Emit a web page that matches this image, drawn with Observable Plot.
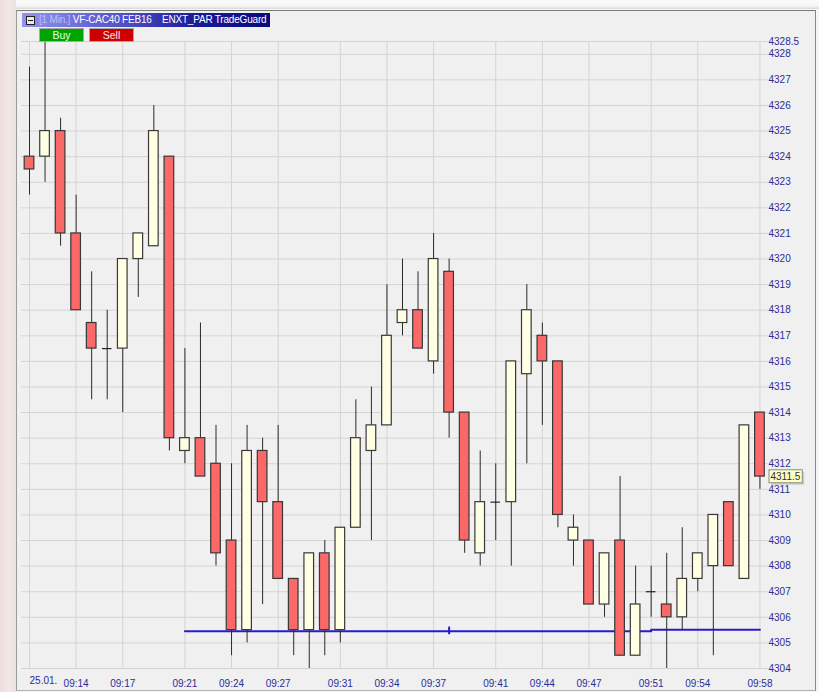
<!DOCTYPE html>
<html>
<head>
<meta charset="utf-8">
<script src="https://cdn.jsdelivr.net/npm/d3@7"></script>
<script src="https://cdn.jsdelivr.net/npm/@observablehq/plot@0.6"></script>
<style>
  html, body { margin: 0; padding: 0; }
  body { width: 819px; height: 692px; overflow: hidden; position: relative; background: #f7f5f5; font-family: "Liberation Sans", Arial, sans-serif; }
  #leftstrip { position: absolute; left: 0; top: 0; width: 16px; height: 692px; background: linear-gradient(90deg, #eedede, #f3e6e6 60%, #e9e2e2); }
  #topstrip { position: absolute; left: 16px; top: 0; width: 803px; height: 9px; background: linear-gradient(180deg, #fbfbfb, #f4f4f4 70%, #d8d8d8); }
  #panel { position: absolute; left: 16px; top: 10px; width: 798px; height: 679px; background: #f0f0f0; border-top: 1px solid #7a7a7a; border-left: 1px solid #9a9a9a; border-right: 1px solid #8a8a8a; border-bottom: 1px solid #b0b0b0; }
  #chart { position: absolute; left: 0; top: 0; }
  #header { position: absolute; left: 22px; top: 13px; width: 248px; height: 14px; background: linear-gradient(90deg, #9494ee, #5a5ad0 35%, #1a1a9a 70%, #0a0a7e); color: #ffffff; font-size: 10px; letter-spacing: -0.2px; line-height: 14px; white-space: pre; overflow: hidden; }
  #header .icon { position: absolute; left: 4px; top: 3px; width: 7px; height: 7px; border: 1px solid #202020; background: #e8e8f4; }
  #header .icon::after { content: ""; position: absolute; left: 1px; top: 3px; width: 5px; height: 1px; background: #202020; }
  #header .txt { position: absolute; left: 17px; top: 0; }
  #header .tf { color: #c0c0f8; }
  .btn { position: absolute; top: 28px; width: 43px; height: 12px; font-size: 10.5px; line-height: 12px; text-align: center; border: 1px solid #a8a8a8; }
  #buy { left: 39px; background: #00a400; color: #e6ffe6; }
  #sell { left: 89px; background: #cc0000; color: #ffe6e6; }
</style>
</head>
<body>
<div id="leftstrip"></div>
<div id="topstrip"></div>
<div id="panel"></div>
<div id="chart"></div>
<div id="header"><span class="icon"></span><span class="txt"><span class="tf">[1 Min.]</span> VF-CAC40 FEB16    ENXT_PAR TradeGuard</span></div>
<div class="btn" id="buy">Buy</div>
<div class="btn" id="sell">Sell</div>
<script>
// ---- Data (1-minute candles, 25.01.) ----
const times = ["09:11","09:12","09:13","09:14","09:15","09:16","09:17","09:18","09:19","09:20",
  "09:21","09:22","09:23","09:24","09:25","09:26","09:27","09:28","09:29","09:30",
  "09:31","09:32","09:33","09:34","09:35","09:36","09:37","09:38","09:39","09:40",
  "09:41","09:42","09:43","09:44","09:45","09:46","09:47","09:48","09:49","09:50",
  "09:51","09:52","09:53","09:54","09:55","09:56","09:57","09:58"];
const opens = [4324,4324,4325,4321,4317.5,4316.5,4316.5,4320,4320.5,4324,
  4312.5,4313,4312,4309,4305.5,4312.5,4310.5,4307.5,4305.5,4308.5,
  4305.5,4309.5,4312.5,4313.5,4317.5,4318,4316,4319.5,4314,4308.5,
  4310.5,4310.5,4315.5,4317,4316,4309,4309,4306.5,4309,4304.5,
  4307,4306.5,4306,4307.5,4308,4310.5,4307.5,4314];
const highs = [4327.5,4328.5,4325.5,4322.5,4319.5,4318,4320,4321,4326,4324,
  4316.5,4317.5,4313.5,4312,4313.5,4313,4313.5,4307.5,4308.5,4309,
  4309.5,4314.5,4315,4319,4320,4319.5,4321,4320,4314,4312.5,
  4312,4316,4319,4317.5,4316,4310,4309,4308.5,4311.5,4308,
  4308,4308.5,4309.5,4308.5,4310,4310.5,4313.5,4314];
const lows = [4322.5,4323,4320.5,4318,4314.5,4314.5,4314,4318.5,4320.5,4312.5,
  4312,4311.5,4308,4304.5,4305,4306.5,4307.5,4304.5,4304,4304.5,
  4305,4309.5,4309,4313.5,4317,4316.5,4315.5,4313,4308.5,4308,
  4309,4308,4312,4313.5,4309.5,4308,4306.5,4306,4304.5,4304.5,
  4306,4304,4305.5,4307,4304.5,4308,4307.5,4311];
const closes = [4323.5,4325,4321,4318,4316.5,4316.5,4320,4321,4325,4313,
  4313,4311.5,4308.5,4305.5,4312.5,4310.5,4307.5,4305.5,4308.5,4305.5,
  4309.5,4313,4313.5,4317,4318,4316.5,4320,4314,4309,4310.5,
  4310.5,4316,4318,4316,4310,4309.5,4306.5,4308.5,4304.5,4306.5,
  4307,4306,4307.5,4308.5,4310,4308,4313.5,4311.5];

// trailing stop line (step) and its marker
const stopTimes = ["09:21","09:51","09:58"];
const stopValues = [4305.46,4305.51,4305.51];
const markerTime = "09:38";
const markerRange = [4305.32, 4305.62];

// axis ticks
const dateLabel = "25.01.";
const xTickTimes = ["09:11","09:14","09:17","09:21","09:24","09:27","09:31","09:34","09:37","09:41","09:44","09:47","09:51","09:54","09:58"];
const yTicks = [4304,4305,4306,4307,4308,4309,4310,4311,4312,4313,4314,4315,4316,4317,4318,4319,4320,4321,4322,4323,4324,4325,4326,4327,4328,4328.5];

// ---- Build ----
const idx = times.map((t, i) => i);
const bodies = idx.filter(i => opens[i] !== closes[i]);
const dojis = idx.filter(i => opens[i] === closes[i]);
const xTickIdx = xTickTimes.map(t => times.indexOf(t));
const stopData = stopTimes.map((t, k) => ({x: times.indexOf(t), y: stopValues[k]}));
const half = 0.31;
const axisColor = "#2c2c98";
const lastPrice = closes[closes.length - 1];

const chart = Plot.plot({
  width: 819,
  height: 692,
  marginLeft: 21,
  marginRight: 51,
  marginTop: 41,
  marginBottom: 24,
  style: {background: "transparent", fontFamily: "'Liberation Sans', Arial, sans-serif", fontSize: "10px", overflow: "visible"},
  x: {type: "linear", domain: [-0.515, 47.55], axis: null},
  y: {type: "linear", domain: [4304, 4328.5], axis: null},
  marks: [
    Plot.gridY(yTicks, {stroke: "#d4d4d4", strokeOpacity: 1}),
    Plot.gridX(xTickIdx, {stroke: "#d4d4d4", strokeOpacity: 1}),
    Plot.axisY(yTicks, {anchor: "right", label: null, tickSize: 0, tickPadding: 0, fill: axisColor, tickFormat: d => `${d}`}),
    Plot.axisX(xTickIdx.slice(1), {anchor: "bottom", label: null, tickSize: 0, tickPadding: 11, fill: axisColor, tickFormat: i => times[i]}),
    Plot.text([dateLabel], {x: xTickIdx[0], frameAnchor: "bottom", dy: 15, textAnchor: "start", fill: axisColor, text: d => d}),
    Plot.line(stopData, {x: "x", y: "y", curve: "step-after", stroke: "#2a1acb", strokeWidth: 2}),
    Plot.ruleX([times.indexOf(markerTime)], {x: d => d, y1: markerRange[0], y2: markerRange[1], stroke: "#2a1acb", strokeWidth: 2}),
    Plot.ruleX(idx, {x: i => i, y1: i => lows[i], y2: i => highs[i], stroke: "#2b2b2b", strokeWidth: 1, clip: true}),
    Plot.rect(bodies, {
      x1: i => i - half, x2: i => i + half,
      y1: i => opens[i], y2: i => closes[i],
      fill: i => closes[i] > opens[i] ? "#ffffe4" : "#fa6868",
      stroke: "#383838", strokeWidth: 1.2
    }),
    Plot.ruleY(dojis, {y: i => opens[i], x1: i => i - half, x2: i => i + half, stroke: "#222", strokeWidth: 1.2}),
    Plot.text([lastPrice], {y: d => d, frameAnchor: "right", textAnchor: "start", dx: 2, fill: "#303030", text: d => `${d}`, className: "lastprice"})
  ]
});
document.getElementById("chart").appendChild(chart);

// background box behind the last-price label
const lp = chart.querySelector(".lastprice text");
if (lp) {
  const bb = lp.getBBox();
  const tr = lp.getAttribute("transform") || "";
  const ns = "http://www.w3.org/2000/svg";
  const shadow = document.createElementNS(ns, "rect");
  shadow.setAttribute("x", bb.x - 1.5 + 2);
  shadow.setAttribute("y", bb.y - 1 + 2);
  shadow.setAttribute("width", bb.width + 3);
  shadow.setAttribute("height", bb.height + 2);
  shadow.setAttribute("fill", "#cfcfcf");
  shadow.setAttribute("transform", tr);
  const box = document.createElementNS(ns, "rect");
  box.setAttribute("x", bb.x - 1.5);
  box.setAttribute("y", bb.y - 1);
  box.setAttribute("width", bb.width + 3);
  box.setAttribute("height", bb.height + 2);
  box.setAttribute("fill", "#ffffc4");
  box.setAttribute("stroke", "#8a8a8a");
  box.setAttribute("stroke-width", "1");
  box.setAttribute("transform", tr);
  const g = lp.parentNode;
  g.insertBefore(shadow, lp);
  g.insertBefore(box, lp);
}
</script>
</body>
</html>
